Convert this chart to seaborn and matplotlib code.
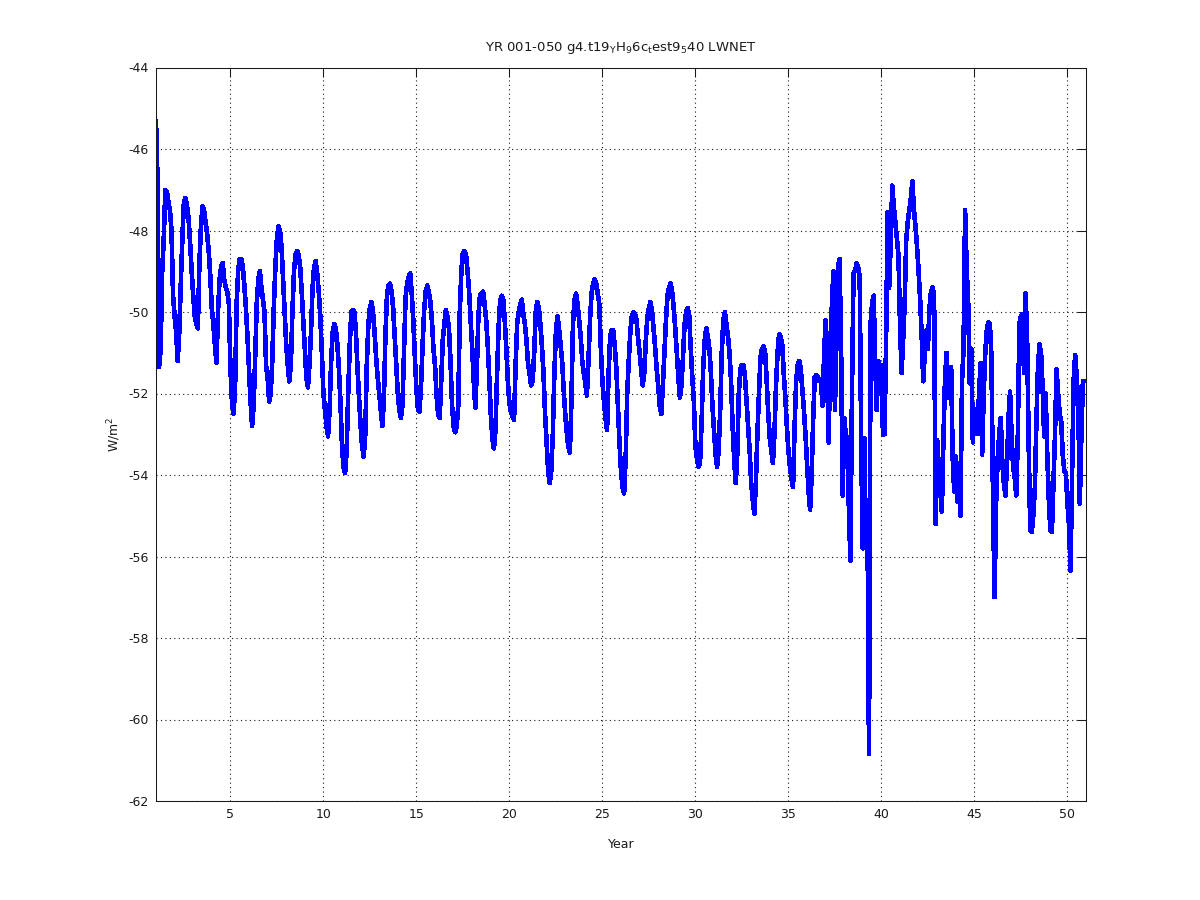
import numpy as np
import pandas as pd
import matplotlib
matplotlib.use("Agg")
import matplotlib.pyplot as plt
import seaborn as sns

# monthly LWNET (W/m^2), one row of 12 months per model year
yr01_10 = [
    -45.3, -46.8, -51.35, -50.9, -49.0, -48.2, -47.0, -47.05, -47.3, -47.5, -48.0, -49.6,
    -50.1, -50.5, -51.2, -50.5, -49.3, -48.2, -47.3, -47.2, -47.4, -47.7, -48.3, -49.0,
    -49.6, -50.1, -50.3, -50.4, -48.8, -47.9, -47.4, -47.5, -47.8, -48.1, -48.5, -49.1,
    -49.9, -50.3, -50.8, -51.25, -50.0, -49.2, -48.9, -48.8, -49.2, -49.4, -49.5, -49.8,
    -51.35, -52.2, -52.5, -51.9, -49.8, -49.0, -48.7, -48.7, -48.9, -49.35, -49.9, -50.6,
    -51.4, -52.2, -52.8, -52.3, -51.1, -49.8, -49.2, -49.0, -49.4, -49.7, -50.0, -51.3,
    -51.6, -52.2, -52.0, -51.2, -49.9, -48.9, -48.2, -47.9, -48.0, -48.4, -49.2, -49.95,
    -50.8, -51.3, -51.7, -51.3, -50.0, -49.0, -48.6, -48.5, -48.6, -48.9, -49.5, -50.2,
    -50.9, -51.6, -51.85, -51.3, -50.5, -49.4, -48.9, -48.75, -49.05, -49.5, -50.1, -51.0,
    -52.0, -52.4, -52.8, -53.05, -52.4, -51.2, -50.5, -50.3, -50.4, -50.8, -51.4, -52.2,
]
yr11_20 = [
    -53.3, -53.8, -53.95, -53.4, -52.0, -50.8, -50.0, -49.95, -50.0, -50.5, -51.4, -52.1,
    -52.8, -53.3, -53.55, -53.0, -51.3, -50.3, -49.9, -49.75, -50.0, -50.5, -51.1, -51.6,
    -52.0, -52.4, -52.8, -52.2, -50.6, -49.6, -49.35, -49.3, -49.5, -49.9, -50.6, -51.3,
    -52.0, -52.4, -52.6, -52.3, -51.0, -49.65, -49.3, -49.15, -49.05, -49.55, -50.2, -51.1,
    -51.9, -52.4, -52.45, -51.8, -50.8, -49.95, -49.5, -49.35, -49.5, -49.75, -50.2, -50.9,
    -51.3, -52.05, -52.5, -52.6, -51.7, -50.7, -50.3, -49.95, -50.1, -50.4, -51.2, -52.3,
    -52.8, -52.95, -52.8, -52.3, -50.0, -49.0, -48.55, -48.5, -48.6, -49.0, -49.5, -50.2,
    -50.9, -51.7, -52.35, -51.4, -50.1, -49.6, -49.55, -49.5, -49.8, -50.2, -50.8, -51.6,
    -52.5, -53.1, -53.35, -52.9, -51.6, -50.4, -49.75, -49.6, -49.7, -50.2, -50.9, -51.7,
    -52.25, -52.45, -52.55, -52.65, -51.3, -50.3, -50.0, -49.8, -49.7, -50.05, -50.3, -50.7,
]
yr21_30 = [
    -51.25, -51.5, -51.8, -51.7, -51.0, -50.0, -49.75, -49.9, -50.3, -50.85, -51.5, -52.5,
    -53.2, -53.9, -54.2, -53.9, -53.0, -51.5, -50.5, -50.1, -50.4, -50.8, -51.2, -51.9,
    -52.5, -52.95, -53.3, -53.45, -52.2, -50.3, -49.7, -49.55, -49.8, -50.2, -50.6, -51.2,
    -51.5, -51.75, -52.05, -51.2, -50.2, -49.55, -49.3, -49.2, -49.3, -49.55, -49.8, -50.9,
    -51.7, -52.2, -52.6, -52.9, -51.5, -50.6, -50.45, -50.45, -50.85, -51.4, -52.3, -53.2,
    -53.9, -54.3, -54.45, -53.6, -52.0, -51.2, -50.5, -50.1, -50.0, -50.05, -50.2, -50.65,
    -51.0, -51.4, -51.8, -51.5, -50.7, -50.15, -49.9, -49.75, -50.0, -50.4, -50.85, -51.4,
    -51.8, -52.3, -52.5, -51.8, -51.0, -50.2, -49.6, -49.4, -49.3, -49.5, -49.9, -50.4,
    -51.0, -51.6, -52.1, -51.8, -51.1, -50.3, -50.0, -49.9, -50.1, -50.9, -51.6, -52.2,
    -53.3, -53.6, -53.8, -53.7, -52.7, -51.4, -50.7, -50.4, -50.6, -50.9, -51.5, -52.3,
]
yr31_40 = [
    -52.9, -53.5, -53.8, -53.4, -52.4, -51.0, -50.2, -50.0, -50.3, -50.6, -51.0, -51.7,
    -52.8, -53.6, -54.2, -53.5, -52.0, -51.4, -51.3, -51.3, -51.6, -52.2, -52.8, -53.4,
    -54.2, -54.6, -54.95, -54.2, -53.0, -52.0, -51.1, -50.9, -50.85, -51.0, -51.7, -52.5,
    -53.1, -53.4, -53.7, -53.0, -51.8, -51.0, -50.55, -50.6, -50.8, -51.5, -52.1, -52.8,
    -53.4, -53.8, -54.1, -54.3, -52.8, -51.7, -51.3, -51.2, -51.4, -51.9, -52.4, -53.0,
    -53.7, -54.4, -54.85, -54.0, -52.6, -51.6, -51.55, -51.6, -51.7, -51.7, -52.3, -51.1,
    -50.2, -51.5, -53.2, -50.8, -49.9, -49.0, -52.4, -50.6, -48.9, -48.7, -50.9, -54.5,
    -52.6, -53.0, -53.1, -54.8, -56.1, -52.0, -49.05, -49.0, -48.8, -48.9, -49.15, -53.4,
    -55.8, -53.1, -55.8, -55.0, -60.85, -50.3, -49.8, -49.6, -51.2, -52.4, -51.2, -51.9,
    -51.3, -53.0, -53.0, -50.8, -47.55, -49.4, -48.3, -46.9, -47.4, -47.8, -48.2, -48.6,
]
yr41_50 = [
    -50.3, -51.5, -50.7, -49.8, -48.25, -47.8, -47.5, -47.2, -46.8, -47.5, -47.9, -48.4,
    -49.0, -49.7, -50.6, -51.7, -51.0, -50.45, -50.9, -49.9, -49.5, -49.4, -49.6, -55.2,
    -53.15, -53.8, -54.4, -54.9, -53.15, -51.7, -51.0, -52.1, -51.6, -51.35, -53.6, -54.4,
    -53.55, -54.65, -53.7, -55.0, -51.7, -50.9, -47.5, -48.9, -49.8, -51.75, -50.9, -53.2,
    -52.4, -52.4, -53.0, -52.0, -51.25, -53.5, -52.0, -51.0, -50.45, -50.25, -50.3, -51.1,
    -54.6, -57.0, -54.7, -53.6, -53.0, -52.6, -53.7, -54.2, -54.5, -53.8, -52.6, -51.95,
    -53.05, -53.8, -54.05, -54.5, -53.05, -50.3, -50.1, -50.05, -51.5, -49.55, -50.6, -53.2,
    -55.35, -55.4, -55.0, -54.3, -52.7, -51.35, -50.8, -51.0, -51.85, -53.05, -52.0, -53.5,
    -54.6, -55.35, -55.4, -54.2, -53.0, -51.4, -52.0, -52.5, -52.7, -53.5, -53.9, -53.95,
    -54.7, -55.2, -56.35, -54.05, -51.7, -51.05, -51.6, -52.25, -54.7, -53.05, -51.7, -51.7,
]

first_year = 1
lwnet = yr01_10 + yr11_20 + yr21_30 + yr31_40 + yr41_50
df = pd.DataFrame({'LWNET': lwnet})
df['Year'] = first_year + np.arange(len(df)) / 12.0

sns.set_theme(style="white")
plt.rcParams['font.family'] = ['DejaVu Sans']
plt.rcParams['mathtext.default'] = 'regular'
plt.rcParams['axes.unicode_minus'] = False

fig, ax = plt.subplots(figsize=(12, 9), dpi=100)
fig.subplots_adjust(left=0.13, right=0.905, bottom=0.11, top=0.925)

sns.lineplot(data=df, x='Year', y='LWNET', ax=ax, color=(0, 0, 1),
             linewidth=2.6, estimator=None, sort=False, antialiased=False)

ax.set_xlim(1, 51)
ax.set_ylim(-62, -44)
ax.set_xticks(range(5, 51, 5))
ax.set_yticks(range(-62, -43, 2))
ax.grid(True, color='k', linestyle=(0, (1, 3)), linewidth=0.8)
ax.tick_params(direction='in', length=6.5, width=0.75, top=True, right=True,
               labelsize=9, colors='k', pad=5)
for s in ax.spines.values():
    s.set_color('k')
    s.set_linewidth(0.75)

ax.set_title('YR 001-050 g4.t19$_Y$H$_9$6c$_t$est9$_5$40 LWNET', fontsize=9.5, pad=12, color='k')
ax.set_xlabel('Year', fontsize=9, color='k', labelpad=12)
ax.set_ylabel('W/m$^2$', fontsize=9, color='k', labelpad=4)

fig.savefig('out.png', dpi=100)
